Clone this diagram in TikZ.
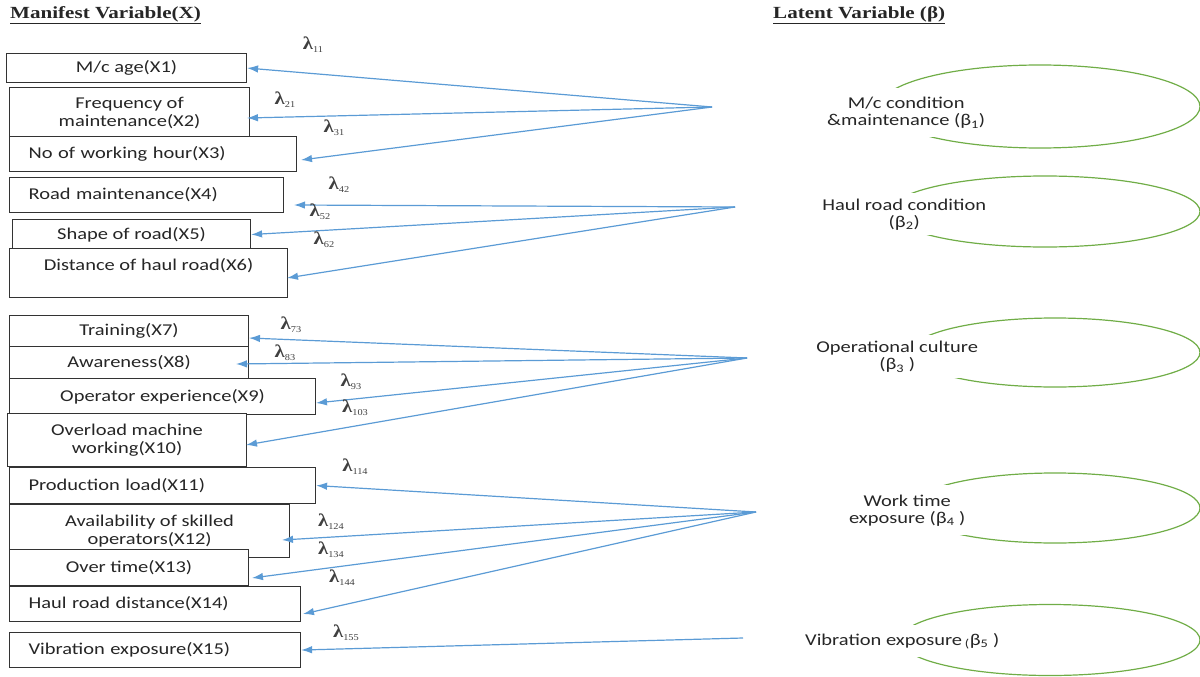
\documentclass[tikz,border=0pt]{standalone}
\usepackage{fontspec}
\setsansfont{Carlito}[FakeStretch=1.24]
\newfontfamily\headfont{Liberation Serif}[FakeStretch=1.24]
\newfontfamily\lamfont{Liberation Serif}[FakeStretch=1.15]
\usetikzlibrary{arrows.meta}
\definecolor{loadblue}{HTML}{5B9BD5}
\definecolor{latgreen}{HTML}{70AD47}
\newcommand{\lamlabel}[1]{{\lamfont\fontsize{18}{18}\selectfont\bfseries λ\mdseries\raisebox{-3pt}{\fontsize{9}{9}\selectfont #1}}}

\tikzset{
  mbox/.style={draw=black!80, line width=1.1pt, fill=white, inner sep=0pt, anchor=north west,
    align=center, text=black!85, font=\sffamily\fontsize{16.5}{18}\selectfont},
  lbox/.style={mbox, align=left, inner xsep=19pt},
  latent/.style={draw=latgreen, line width=1.2pt},
  lcap/.style={fill=white, inner sep=0pt, anchor=north west, align=center,
    text=black!85, font=\sffamily\fontsize{16.5}{17}\selectfont},
  load/.style={draw=loadblue, line width=1.2pt, -{Latex[length=11pt,width=7.5pt]}},
  lam/.style={inner sep=0pt, text=black!75},
  head/.style={inner sep=0pt, anchor=west, text=black!85, font=\headfont\bfseries\fontsize{17}{17}\selectfont}
}

\begin{document}
\begin{tikzpicture}[x=1pt,y=-1pt]
                    \useasboundingbox (0,0) rectangle (1200,677);
                    \clip (0,0) rectangle (1200,677);

                    % Headings
                    \node[head] (mhead) at (10,15) {\underline{Manifest Variable(X)}};
                    \node[head] (lhead) at (773,15) {\underline{Latent Variable (β)}};

                    % Latent variables
                    \draw[latent] (1040,106.5) ellipse [x radius=160pt, y radius=41.5pt];
                    \draw[latent] (1045,211.5) ellipse [x radius=155pt, y radius=35.5pt];
                    \draw[latent] (1055,352.5) ellipse [x radius=145pt, y radius=34.5pt];
                    \draw[latent] (1055,508) ellipse [x radius=145pt, y radius=35pt];
                    \draw[latent] (1050,640) ellipse [x radius=150pt, y radius=35.5pt];
                    \node[lcap, minimum width=188pt, minimum height=49pt] (b1) at (812,88)
                      {M/c condition\\\&maintenance (β\textsubscript{1})};
                    \node[lcap, minimum width=218pt, minimum height=42pt] (b2) at (795,193)
                      {Haul road condition\\(β\textsubscript{2})};
                    \node[lcap, minimum width=194pt, minimum height=43pt] (b3) at (800,335)
                      {Operational culture\\(β\textsubscript{3} )};
                    \node[lcap, minimum width=208pt, minimum height=50pt] (b4) at (803,485)
                      {Work time\\exposure (β\textsubscript{4} )};
                    \node[lcap, minimum width=234pt, minimum height=32pt] (b5) at (785,625)
                      {Vibration exposure\,\textsubscript{(}β\textsubscript{5} )};

                    % Manifest variables
                    \node[mbox, minimum width=240pt, minimum height=29pt] (x1) at (6,53) {M/c age(X1)};
                    \node[mbox, minimum width=240pt, minimum height=50pt] (x2) at (9,87) {Frequency of\\maintenance(X2)};
                    \node[lbox, text width=249pt, minimum height=35pt] (x3) at (9,136) {No of working hour(X3)};
                    \node[lbox, text width=236pt, minimum height=35pt] (x4) at (9,177) {Road maintenance(X4)};
                    \node[mbox, minimum width=238pt, minimum height=30pt] (x5) at (12,219) {Shape of road(X5)};
                    \node[mbox, minimum width=278pt, minimum height=49pt] (x6) at (9,248) {Distance of haul road(X6)\\\mbox{}};
                    \node[mbox, minimum width=239pt, minimum height=31pt] (x7) at (9,315) {Training(X7)};
                    \node[mbox, minimum width=239pt, minimum height=32pt] (x8) at (9,346) {Awareness(X8)};
                    \node[mbox, minimum width=306pt, minimum height=36pt] (x9) at (9,378) {Operator experience(X9)};
                    \node[mbox, minimum width=239pt, minimum height=53pt] (x10) at (7,413) {Overload machine\\working(X10)};
                    \node[lbox, text width=268pt, minimum height=36pt] (x11) at (9,467) {Production load(X11)};
                    \node[mbox, minimum width=280pt, minimum height=53pt] (x12) at (9,504) {Availability of skilled\\operators(X12)};
                    \node[mbox, minimum width=239pt, minimum height=36pt] (x13) at (9,549) {Over time(X13)};
                    \node[lbox, text width=253pt, minimum height=35pt] (x14) at (9,586) {Haul road distance(X14)};
                    \node[lbox, text width=253pt, minimum height=35pt] (x15) at (9,632) {Vibration exposure(X15)};

                    % Arrow sources and tips
                    \coordinate (s1) at (712,107);
                    \coordinate (s2) at (735,207);
                    \coordinate (s3) at (747,358);
                    \coordinate (s4) at (756,512);
                    \coordinate (s5) at (743,638);
                    \coordinate (x2in) at (247,118);
                    \coordinate (x3in) at (301,160);
                    \coordinate (x4in) at (294,205);
                    \coordinate (x6in) at (287,278);
                    \coordinate (x7in) at (249,338);
                    \coordinate (x8in) at (236,364);
                    \coordinate (x9in) at (316,403);
                    \coordinate (x10in) at (246,445);
                    \coordinate (x12in) at (282,540);
                    \coordinate (x13in) at (252,578);
                    \coordinate (x14in) at (303,614);

                    % Loadings
                    \draw[load] (s1) -- (x1.east);
                    \draw[load] (s1) -- (x2in);
                    \draw[load] (s1) -- (x3in);
                    \draw[load] (s2) -- (x4in);
                    \draw[load] (s2) -- (x5.east);
                    \draw[load] (s2) -- (x6in);
                    \draw[load] (s3) -- (x7in);
                    \draw[load] (s3) -- (x8in);
                    \draw[load] (s3) -- (x9in);
                    \draw[load] (s3) -- (x10in);
                    \draw[load] (s4) -- (x11.east);
                    \draw[load] (s4) -- (x12in);
                    \draw[load] (s4) -- (x13in);
                    \draw[load] (s4) -- (x14in);
                    \draw[load] (s5) -- (x15.east);

                    % Loading labels
                    \node[lam] (l11) at (313,45) {\lamlabel{11}};
                    \node[lam] (l21) at (285,100) {\lamlabel{21}};
                    \node[lam] (l31) at (334,128) {\lamlabel{31}};
                    \node[lam] (l42) at (339,185) {\lamlabel{42}};
                    \node[lam] (l52) at (320,212) {\lamlabel{52}};
                    \node[lam] (l62) at (324,240) {\lamlabel{62}};
                    \node[lam] (l73) at (291,325) {\lamlabel{73}};
                    \node[lam] (l83) at (285,353) {\lamlabel{83}};
                    \node[lam] (l93) at (351,382) {\lamlabel{93}};
                    \node[lam] (l103) at (355,408) {\lamlabel{103}};
                    \node[lam] (l114) at (355,467) {\lamlabel{114}};
                    \node[lam] (l124) at (331,522) {\lamlabel{124}};
                    \node[lam] (l134) at (331,550) {\lamlabel{134}};
                    \node[lam] (l144) at (342,578) {\lamlabel{144}};
                    \node[lam] (l155) at (346,633) {\lamlabel{155}};
                \end{tikzpicture}
\end{document}
